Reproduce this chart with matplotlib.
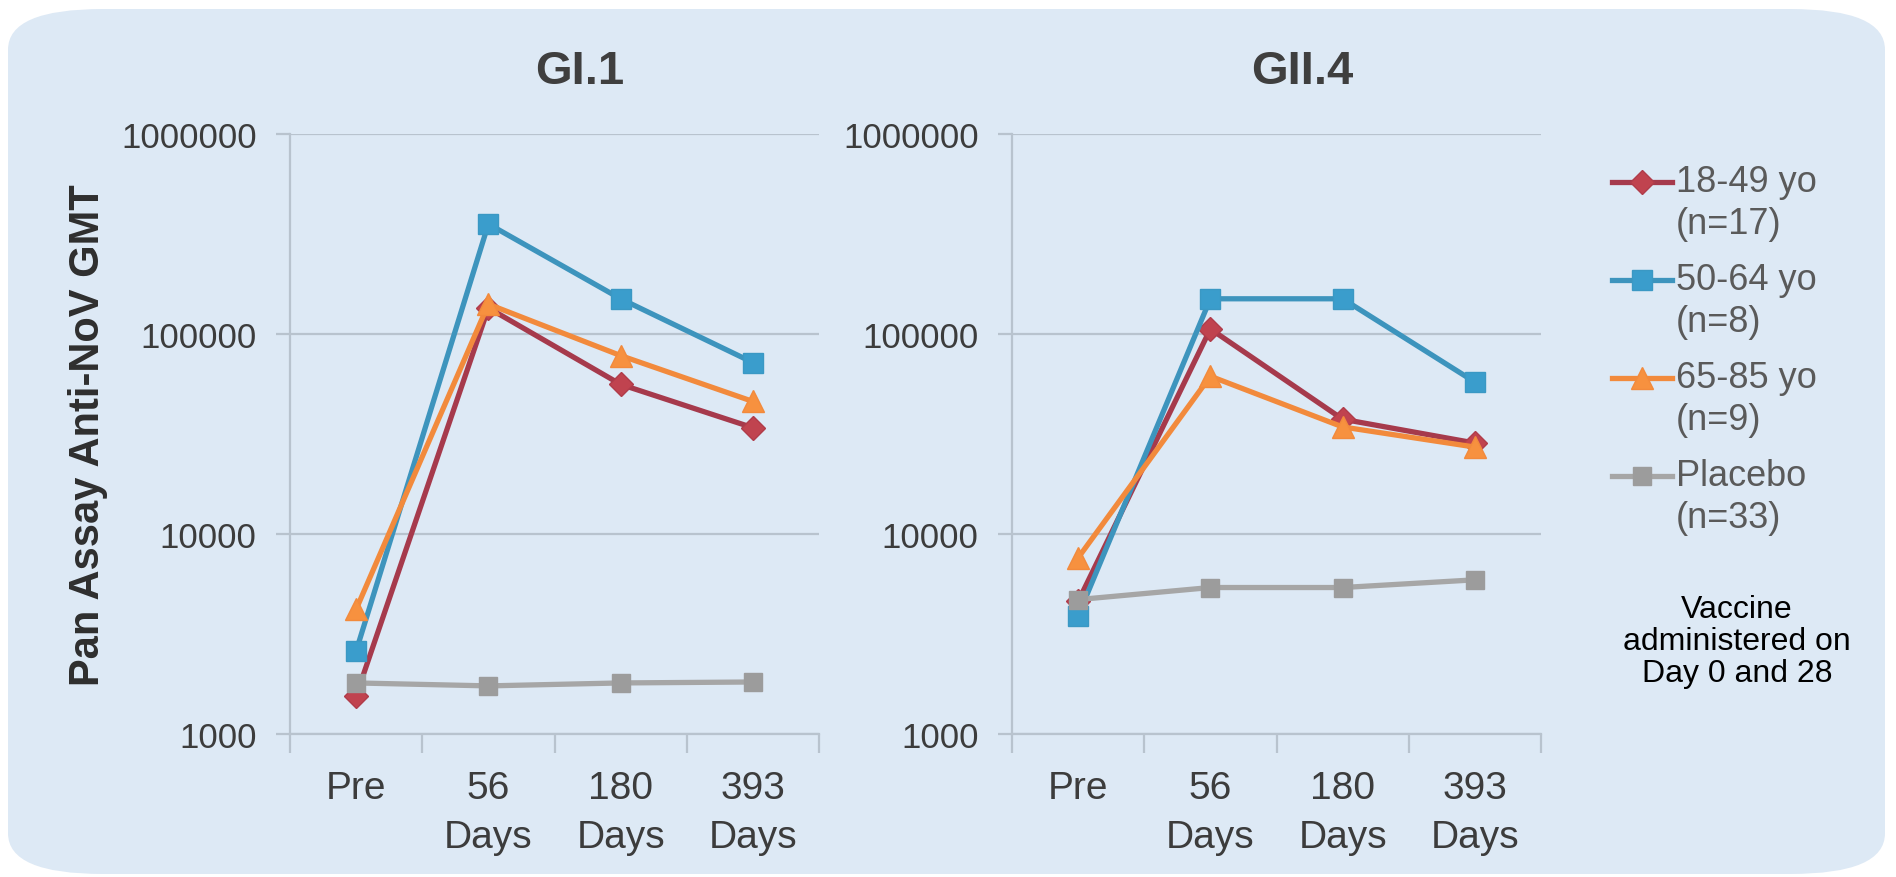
import numpy as np
import matplotlib
matplotlib.use("Agg")
import matplotlib.pyplot as plt
import matplotlib.patches as mpatches
from matplotlib.lines import Line2D
from matplotlib.ticker import NullLocator, FixedLocator

plt.rcParams['font.family'] = ['Liberation Sans', 'DejaVu Sans']

# ---- data -------------------------------------------------------------
timepoints = ["Pre", "56\nDays", "180\nDays", "393\nDays"]
group_names = ["18-49 yo", "50-64 yo", "65-85 yo", "Placebo"]
group_sizes = ["(n=17)", "(n=8)", "(n=9)", "(n=33)"]

gi1_18_49 = [1550, 135000, 56000, 34000]
gi1_50_64 = [2600, 355000, 150000, 72000]
gi1_65_85 = [4200, 141000, 78000, 46000]
gi1_placebo = [1800, 1740, 1800, 1820]

gii4_18_49 = [4600, 106000, 37500, 28500]
gii4_50_64 = [3900, 150000, 150000, 57500]
gii4_65_85 = [7600, 61500, 34300, 27200]
gii4_placebo = [4700, 5400, 5400, 5900]

ytick_values = [1000, 10000, 100000, 1000000]
ytick_labels = ["1000", "10000", "100000", "1000000"]

# ---- styling ----------------------------------------------------------
W, H = 1896, 878
panel_color = "#dde9f5"
grid_color = "#b8c3ce"
text_color = "#3c3c3c"

styles = [
    dict(color="#a63a4c", markerfacecolor="#c0434f", markeredgecolor="#b03c4a", marker="D", markersize=12),
    dict(color="#3d94bd", markerfacecolor="#3a9dcc", markeredgecolor="#3a98c4", marker="s", markersize=14),
    dict(color="#f28a3c", markerfacecolor="#f7913f", markeredgecolor="#f28a3c", marker="^", markersize=16),
    dict(color="#a6a6a6", markerfacecolor="#9c9c9c", markeredgecolor="#9c9c9c", marker="s", markersize=13),
]


def fx(px):
    return px / W


def fy(py):
    return 1 - py / H


fig = plt.figure(figsize=(W / 100, H / 100), dpi=100)
fig.patch.set_facecolor("white")

# rounded light-blue backdrop
backdrop = mpatches.FancyBboxPatch(
    (fx(8), fy(875)), fx(1885) - fx(8), fy(10) - fy(875),
    boxstyle="round,pad=0,rounding_size=0.05",
    transform=fig.transFigure, facecolor=panel_color, edgecolor="none",
    zorder=0, mutation_aspect=H / W * 2.0,
)
fig.add_artist(backdrop)


def draw_panel(left_px, title, title_x_px, series):
    ax = fig.add_axes([fx(left_px), fy(735), 529 / W, 600 / H])
    ax.set_facecolor("none")
    x = np.arange(len(timepoints)) + 0.5
    for vals, st in zip(series, styles):
        ax.plot(x, vals, lw=3.8, clip_on=False, **st)
    ax.set_yscale("log")
    ax.set_ylim(1000, 1000000)
    ax.set_xlim(0, 4)
    ax.yaxis.set_major_locator(FixedLocator(ytick_values))
    ax.set_yticklabels(ytick_labels)
    ax.yaxis.set_minor_locator(NullLocator())
    ax.grid(axis="y", color=grid_color, lw=1.6)
    ax.set_axisbelow(True)
    ax.set_xticks(x)
    ax.set_xticklabels(timepoints, linespacing=1.45)
    ax.set_xticks([0, 1, 2, 3, 4], minor=True)
    ax.tick_params(axis="x", which="major", length=0, pad=26,
                   labelsize=28, labelcolor=text_color)
    ax.tick_params(axis="x", which="minor", length=14, width=1.6,
                   color=grid_color, direction="out")
    ax.tick_params(axis="y", which="major", length=10, width=1.6,
                   color=grid_color, labelsize=25, pad=14,
                   labelcolor=text_color)
    for side in ("top", "right"):
        ax.spines[side].set_visible(False)
    for side in ("left", "bottom"):
        ax.spines[side].set_color(grid_color)
        ax.spines[side].set_linewidth(1.6)
    fig.text(fx(title_x_px), fy(72), title, ha="center", va="center",
             fontsize=34, fontweight="bold", color="#3f3f3f")
    return ax


draw_panel(290, "GI.1", 580, [gi1_18_49, gi1_50_64, gi1_65_85, gi1_placebo])
draw_panel(1012, "GII.4", 1302, [gii4_18_49, gii4_50_64, gii4_65_85, gii4_placebo])

fig.text(fx(88), fy(435), "Pan Assay Anti-NoV GMT", rotation=90,
         ha="center", va="center", fontsize=30, fontweight="bold",
         color="#2e2e2e")

# legend: short line with a single marker in the middle, two-line label
first_rows = [183, 281, 379, 477]
for name, size, row, st in zip(group_names, group_sizes, first_rows, styles):
    fig.add_artist(Line2D([fx(1612), fx(1642), fx(1672)], [fy(row)] * 3,
                          transform=fig.transFigure, lw=3.8, markevery=[1], **st))
    fig.text(fx(1676), fy(row), name, ha="left", va="center",
             fontsize=26, color="#5a5a5a")
    fig.text(fx(1676), fy(row + 42), size, ha="left", va="center",
             fontsize=26, color="#5a5a5a")

fig.text(fx(1737), fy(642), "Vaccine\nadministered on\nDay 0 and 28",
         ha="center", va="center", multialignment="center",
         fontsize=23, color="black", linespacing=1.1)

fig.savefig("out.png", dpi=100, facecolor="white")
